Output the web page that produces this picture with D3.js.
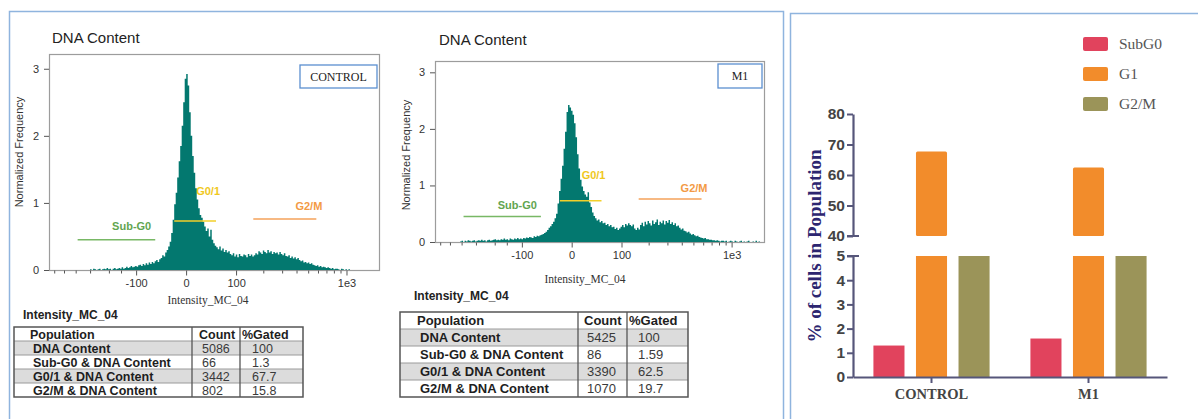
<!DOCTYPE html>
<html>
<head>
<meta charset="utf-8">
<script src="https://cdn.jsdelivr.net/npm/d3@7"></script>
<style>
  body { margin: 0; background: #fff; }
  svg { display: block; }
  .sans { font-family: "Liberation Sans", Arial, sans-serif; }
  .serif { font-family: "Liberation Serif", "Times New Roman", serif; }
</style>
</head>
<body>
<svg id="fig" width="1198" height="419"></svg>
<script>
// ---------------- data ----------------
// Intensity axis (biexponential-like display)
const xTickValues = [-100, 0, 100, 1000];
const xTickLabels = ["-100", "0", "100", "1e3"];
const xMinorTicks = [-600, -500, -400, -300, -200, -150, 200, 300, 400, 500, 600, 700, 800, 900];
const yTickValues = [0, 1, 2, 3];

// Histogram of DNA content, CONTROL (normalized frequency per bin)
const controlBinRange = [-300, 1062];
const controlFreq = [
  0.01,0.00,0.02,0.01,0.00,0.01,0.02,0.00,0.01,0.02,
  0.01,0.03,0.01,0.02,0.00,0.02,0.03,0.01,0.02,0.03,
  0.02,0.04,0.02,0.03,0.05,0.03,0.04,0.06,0.04,0.05,
  0.06,0.05,0.07,0.08,0.06,0.09,0.07,0.10,0.08,0.11,
  0.09,0.12,0.10,0.13,0.15,0.12,0.16,
  0.18,0.22,0.20,0.26,0.30,0.35,0.42,
  0.55,0.75,0.98,
  1.15,1.38,1.62,
  1.85,2.15,2.50,
  2.85,2.92,2.75,
  2.35,2.00,1.70,
  1.45,1.22,1.05,
  0.92,0.82,0.78,0.72,
  0.65,0.58,0.62,0.50,0.60,
  0.45,0.40,0.36,
  0.34,0.31,0.35,0.29,0.32,0.27,0.30,0.26,0.28,0.24,
  0.22,0.25,0.20,0.23,0.19,0.24,0.21,0.20,0.23,0.22,0.19,0.24,0.21,0.23,0.20,0.22,
  0.25,0.23,0.28,0.26,0.24,0.29,0.27,0.25,0.30,0.26,0.28,0.24,0.27,0.25,0.26,0.23,0.27,0.24,0.22,0.25,
  0.21,0.20,0.22,0.18,0.20,0.17,0.19,0.16,0.18,0.15,
  0.13,0.14,0.11,0.12,0.10,0.11,0.09,0.10,0.08,0.07,
  0.06,0.07,0.05,0.06,0.04,0.05,0.04,0.03,0.04,0.03,
  0.02,0.03,0.01,0.02,0.02,0.01,0.00,0.02,0.01,0.00,0.01,0.00,0.01
];

// Histogram of DNA content, M1
const m1BinRange = [-412, 1677];
const m1Freq = [
  0.01,0.02,0.00,0.02,0.01,0.03,0.02,0.01,0.02,0.03,
  0.01,0.02,0.03,0.02,0.04,0.02,0.03,0.01,0.03,0.04,
  0.02,0.03,0.04,0.05,0.03,0.04,0.03,0.05,0.04,0.06,
  0.04,0.05,0.03,0.06,0.05,0.04,0.06,0.05,0.07,0.05,
  0.06,0.05,0.07,0.06,0.08,0.07,0.09,0.08,0.07,0.10,0.09,0.11,0.10,0.12,0.13,
  0.14,0.16,0.18,0.21,0.25,
  0.28,0.32,0.36,0.42,0.50,
  0.68,0.90,1.12,1.35,
  1.65,1.95,2.30,
  2.42,2.38,2.32,
  2.25,2.10,1.85,
  1.55,1.30,1.10,
  0.98,0.90,0.84,0.80,
  0.88,
  0.70,0.62,0.52,0.46,
  0.42,0.38,0.40,0.35,0.37,0.33,
  0.34,0.30,0.32,0.28,0.30,0.26,0.27,0.23,0.25,0.21,
  0.24,0.27,0.30,0.26,0.32,0.29,0.33,0.30,0.28,0.31,
  0.24,0.21,0.25,0.22,
  0.30,0.34,0.28,0.36,0.31,0.37,0.33,0.29,0.38,0.32,0.35,0.40,0.30,0.36,0.33,0.38,0.31,0.37,0.34,0.39,0.32,0.35,
  0.30,0.33,0.28,0.29,
  0.25,0.22,0.24,0.20,0.19,0.17,0.18,
  0.15,0.13,0.14,0.12,0.10,0.11,0.09,0.08,
  0.07,0.06,0.07,0.05,0.05,0.04,0.04,0.03,
  0.03,0.02,0.03,0.02,0.01,0.02,0.02,0.01,0.02,0.00,0.01,0.02,0.01,0.00,0.02,0.01,
  0.00,0.01,0.02,0.00,0.01,0.00,0.01,0.02,0.00,0.00,0.01,0.00,0.02,0.00,0.01,0.00
];

// Gates drawn on the histograms
const gateNames = ["Sub-G0", "G0/1", "G2/M"];
const gateLo = [-385, -17, 158];
const gateHi = [-52, 50, 582];
const gateLevel = [0.45, 0.73, 0.76];
const gateLabelLevel = [0.66, 1.18, 0.96];

// Gate statistics tables
const tableHeader = ["Population", "Count", "%Gated"];
const populations = ["DNA Content", "Sub-G0 & DNA Content", "G0/1 & DNA Content", "G2/M & DNA Content"];
const controlCounts = ["5086", "66", "3442", "802"];
const controlGated = ["100", "1.3", "67.7", "15.8"];
const m1Counts = ["5425", "86", "3390", "1070"];
const m1Gated = ["100", "1.59", "62.5", "19.7"];

// Cell-cycle summary (% of cells in population)
const groups = ["CONTROL", "M1"];
const phases = ["SubG0", "G1", "G2/M"];
const pctSubG0 = [1.3, 1.59];
const pctG1 = [67.7, 62.5];
const pctG2M = [15.8, 19.7];
const upperTicks = [40, 50, 60, 70, 80];
const lowerTicks = [0, 1, 2, 3, 4, 5];

// ---------------- drawing ----------------
const svg = d3.select("#fig");
const TEAL = "#03786f";
const gateColors = ["#78b865", "#f2cf2a", "#f5a25a"];
const gateLabelColors = ["#62a550", "#f0c81c", "#f39a45"];
const gateLabelDx = [-4, 4, 6];
const intFmt = d3.format("d");

// outer panel frames
svg.append("rect").attr("x", 9.5).attr("y", 11.5).attr("width", 774).attr("height", 430)
  .attr("fill", "none").attr("stroke", "#8fb4de").attr("stroke-width", 1.5);
svg.append("rect").attr("x", 790.5).attr("y", 13.5).attr("width", 430).attr("height", 430)
  .attr("fill", "none").attr("stroke", "#8fb4de").attr("stroke-width", 1.5);

function histogramPanel(cfg) {
  const g = svg.append("g");
  const x = d3.scaleSymlog().constant(80).domain([-660, 1750]).range([cfg.left, cfg.right]);
  const y = d3.scaleLinear().domain([0, cfg.yMax]).range([cfg.base, cfg.top]);

  // title
  g.append("text").attr("class", "sans").attr("x", cfg.titleX).attr("y", cfg.titleY)
    .attr("font-size", 15).attr("fill", "#222").text("DNA Content");

  // plot frame
  g.append("rect").attr("x", cfg.left + 0.5).attr("y", cfg.top + 0.5)
    .attr("width", cfg.right - cfg.left).attr("height", cfg.base - cfg.top)
    .attr("fill", "none").attr("stroke", "#9c9c9c").attr("stroke-width", 1.2);

  // histogram as a stepped area
  const n = cfg.freq.length;
  const bin = d3.scaleLinear().domain([0, n]).range([x(cfg.binRange[0]), x(cfg.binRange[1])]);
  const pts = cfg.freq.map((f, i) => [bin(i), f]);
  pts.push([bin(n), cfg.freq[n - 1]]);
  const area = d3.area().x(d => d[0]).y0(y(0)).y1(d => y(d[1])).curve(d3.curveStepAfter);
  g.append("path").attr("d", area(pts)).attr("fill", TEAL);

  // x axis (major + minor ticks)
  const xa = g.append("g").attr("transform", `translate(0,${cfg.base + 0.5})`)
    .call(d3.axisBottom(x).tickValues(xTickValues).tickFormat((d, i) => xTickLabels[i]).tickSize(5).tickPadding(4));
  xa.select(".domain").remove();
  xa.selectAll("line").attr("stroke", "#555");
  xa.selectAll("text").attr("class", "sans").attr("font-size", 11).attr("fill", "#333");
  const xm = g.append("g").attr("transform", `translate(0,${cfg.base + 0.5})`)
    .call(d3.axisBottom(x).tickValues(xMinorTicks).tickFormat("").tickSize(3));
  xm.select(".domain").remove();
  xm.selectAll("line").attr("stroke", "#555");

  // y axis
  const ya = g.append("g").attr("transform", `translate(${cfg.left},0)`)
    .call(d3.axisLeft(y).tickValues(yTickValues).tickFormat(intFmt).tickSize(5).tickPadding(5));
  ya.select(".domain").remove();
  ya.selectAll("line").attr("stroke", "#555");
  ya.selectAll("text").attr("class", "sans").attr("font-size", 11).attr("fill", "#333");

  // axis titles
  g.append("text").attr("class", "sans")
    .attr("transform", `translate(${cfg.yTitleX},${cfg.yTitleY}) rotate(-90)`)
    .attr("text-anchor", "middle").attr("font-size", 11).attr("fill", "#333")
    .text("Normalized Frequency");
  g.append("text").attr("class", "serif").attr("x", cfg.xTitleX).attr("y", cfg.xTitleY)
    .attr("text-anchor", "middle").attr("font-size", 11.5).attr("fill", "#333")
    .text("Intensity_MC_04");

  // gates
  gateNames.forEach((name, i) => {
    const yy = y(gateLevel[i]);
    g.append("line").attr("x1", x(gateLo[i])).attr("x2", x(gateHi[i]))
      .attr("y1", yy).attr("y2", yy).attr("stroke", gateColors[i]).attr("stroke-width", 1.6);
    g.append("text").attr("class", "sans").attr("x", x(gateHi[i]) + gateLabelDx[i])
      .attr("y", y(gateLabelLevel[i]) + 4).attr("text-anchor", "end")
      .attr("font-size", 11).attr("font-weight", "bold").attr("fill", gateLabelColors[i])
      .text(name);
  });

  // sample label box
  g.append("rect").attr("x", cfg.box[0]).attr("y", cfg.box[1]).attr("width", cfg.box[2]).attr("height", cfg.box[3])
    .attr("fill", "#fff").attr("stroke", "#5b8fd0").attr("stroke-width", 1.3);
  g.append("text").attr("class", "serif").attr("x", cfg.box[0] + cfg.box[2] / 2).attr("y", cfg.box[1] + cfg.box[3] / 2 + 4)
    .attr("text-anchor", "middle").attr("font-size", 12).attr("fill", "#222").text(cfg.sample);
}

histogramPanel({
  left: 49, right: 379, top: 54, base: 270, yMax: 3.22,
  freq: controlFreq, binRange: controlBinRange,
  titleX: 52, titleY: 43, yTitleX: 23, yTitleY: 152, xTitleX: 208, xTitleY: 304,
  box: [300, 65, 77, 23], sample: "CONTROL"
});
histogramPanel({
  left: 435, right: 764, top: 61, base: 242, yMax: 3.2,
  freq: m1Freq, binRange: m1BinRange,
  titleX: 439, titleY: 45, yTitleX: 410, yTitleY: 155, xTitleX: 585, xTitleY: 283,
  box: [718, 64, 44, 24], sample: "M1"
});

// gate statistics tables
function statsTable(cfg) {
  const g = svg.append("g");
  g.append("text").attr("class", "sans").attr("x", cfg.headX).attr("y", cfg.headY)
    .attr("font-size", cfg.headSize).attr("font-weight", "bold").attr("fill", "#222").text("Intensity_MC_04");
  const rows = [tableHeader].concat(populations.map((p, i) => [p, cfg.counts[i], cfg.gated[i]]));
  const ry = d3.scaleBand().domain(d3.range(rows.length)).range([cfg.y0, cfg.y1]);
  const cols = cfg.cols;
  rows.forEach((r, i) => {
    if (i % 2 === 1) {
      g.append("rect").attr("x", cols[0]).attr("y", ry(i)).attr("width", cols[3] - cols[0]).attr("height", ry.bandwidth())
        .attr("fill", "#dcdcdc");
    }
    if (i > 0) {
      g.append("line").attr("x1", cols[0]).attr("x2", cols[3]).attr("y1", ry(i)).attr("y2", ry(i))
        .attr("stroke", "#9a9a9a").attr("stroke-width", 1);
    }
    r.forEach((t, j) => {
      const bold = i === 0 || j === 0;
      g.append("text").attr("class", "sans")
        .attr("x", cols[j] + cfg.pad[i === 0 ? 0 : 1][j]).attr("y", ry(i) + ry.bandwidth() / 2 + cfg.fs * 0.36)
        .attr("font-size", cfg.fs).attr("font-weight", bold ? "bold" : "normal")
        .attr("fill", bold ? "#1e1e1e" : "#3a3a3a").text(t);
    });
  });
  [1, 2].forEach(k => g.append("line").attr("x1", cols[k]).attr("x2", cols[k]).attr("y1", cfg.y0).attr("y2", cfg.y1)
    .attr("stroke", "#555").attr("stroke-width", 1.3));
  g.append("rect").attr("x", cols[0]).attr("y", cfg.y0).attr("width", cols[3] - cols[0]).attr("height", cfg.y1 - cfg.y0)
    .attr("fill", "none").attr("stroke", "#555").attr("stroke-width", 1.5);
}

statsTable({
  headX: 23, headY: 319, headSize: 12,
  y0: 327, y1: 397, cols: [14, 192, 240, 303], fs: 12.5,
  pad: [[16, 7, 2], [19, 10, 12]],
  counts: controlCounts, gated: controlGated
});
statsTable({
  headX: 414, headY: 300, headSize: 12,
  y0: 312, y1: 397, cols: [400, 578, 627, 688], fs: 13,
  pad: [[17, 6, 2], [20, 9, 11]],
  counts: m1Counts, gated: m1Gated
});

// ---------------- cell-cycle bar chart with broken y axis ----------------
const bg = svg.append("g");
const AXIS = "#56567a";
const phaseColors = ["#e1435d", "#f28c2b", "#9b9459"];
const phaseValues = [pctSubG0, pctG1, pctG2M];

const bx = d3.scaleBand().domain(groups).range([853, 1167]);
const bsub = d3.scaleBand().domain(phases).range([0, bx.bandwidth()]).paddingInner(0.27).paddingOuter(0.48);
const yUp = d3.scaleLinear().domain([40, 80]).range([236, 114]);
const yLow = d3.scaleLinear().domain([0, 5]).range([377, 256]);

groups.forEach((grp, gi) => {
  phases.forEach((ph, pi) => {
    const v = phaseValues[pi][gi];
    const x0 = bx(grp) + bsub(ph);
    const low = Math.min(v, 5);
    bg.append("rect").attr("x", x0).attr("y", yLow(low)).attr("width", bsub.bandwidth())
      .attr("height", yLow(0) - yLow(low)).attr("fill", phaseColors[pi]);
    if (v > 40) {
      bg.append("rect").attr("x", x0).attr("y", yUp(v)).attr("width", bsub.bandwidth())
        .attr("height", yUp(40) - yUp(v)).attr("fill", phaseColors[pi]).attr("rx", 1.5);
    }
  });
});

function styleAxis(sel) {
  sel.select(".domain").attr("stroke", AXIS).attr("stroke-width", 2.2);
  sel.selectAll(".tick line").attr("stroke", AXIS).attr("stroke-width", 2);
  sel.selectAll("text").attr("class", "sans").attr("font-size", 15.5).attr("font-weight", "bold").attr("fill", "#444");
}
const yaU = bg.append("g").attr("transform", "translate(853,0)")
  .call(d3.axisLeft(yUp).tickValues(upperTicks).tickFormat(intFmt).tickSize(6).tickSizeOuter(0).tickPadding(2));
styleAxis(yaU);
const yaL = bg.append("g").attr("transform", "translate(853,0)")
  .call(d3.axisLeft(yLow).tickValues(lowerTicks).tickFormat(intFmt).tickSize(6).tickSizeOuter(0).tickPadding(2));
styleAxis(yaL);
// break caps at the ends of the two axis segments
[yUp(40), yLow(5)].forEach(yy => bg.append("line").attr("x1", 847).attr("x2", 859).attr("y1", yy).attr("y2", yy)
  .attr("stroke", AXIS).attr("stroke-width", 2));

const xaB = bg.append("g").attr("transform", `translate(0,${yLow(0)})`)
  .call(d3.axisBottom(bx).tickSize(6).tickSizeOuter(0).tickPadding(6));
xaB.select(".domain").attr("stroke", AXIS).attr("stroke-width", 2.2);
xaB.selectAll(".tick line").attr("stroke", AXIS).attr("stroke-width", 2);
xaB.selectAll("text").attr("class", "serif").attr("font-size", 14.5).attr("font-weight", "bold").attr("fill", "#454545");

bg.append("text").attr("class", "serif")
  .attr("transform", "translate(821,246) rotate(-90)").attr("text-anchor", "middle")
  .attr("font-size", 19).attr("font-weight", "bold").attr("fill", "#2d2670")
  .text("% of cells in Population");

// legend
const ly = d3.scaleBand().domain(phases).range([30, 120]);
phases.forEach((ph, i) => {
  bg.append("rect").attr("x", 1083).attr("y", ly(ph) + 7).attr("width", 25).attr("height", 14).attr("rx", 2)
    .attr("fill", phaseColors[i]);
  bg.append("text").attr("class", "serif").attr("x", 1119).attr("y", ly(ph) + 19)
    .attr("font-size", 15.5).attr("fill", "#555").text(ph);
});
</script>
</body>
</html>
